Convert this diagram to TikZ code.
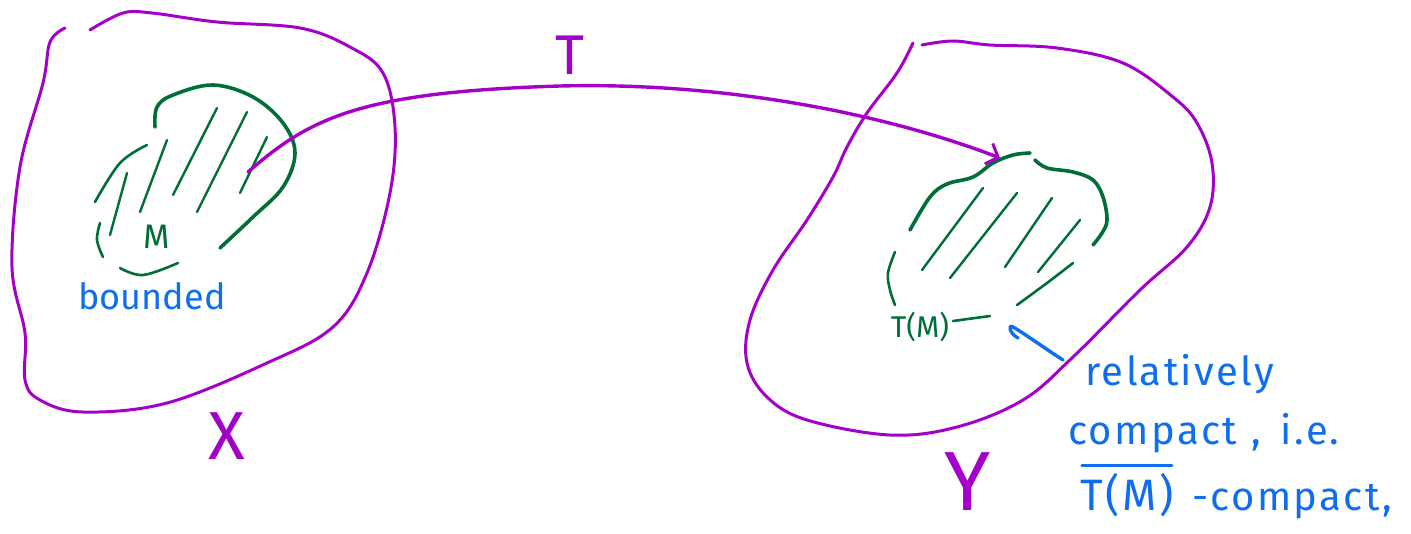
\documentclass[tikz,border=0pt]{standalone}
\usepackage{fontspec}
\setmainfont{Fira Sans}
\newfontfamily\notefont[LetterSpace=6]{Fira Sans}
\usetikzlibrary{arrows.meta}
\definecolor{pen}{RGB}{163,0,200}
\definecolor{leaf}{RGB}{0,110,55}
\definecolor{ink}{RGB}{15,110,240}
\tikzset{
  region/.style={draw=pen, line width=3pt, line cap=round, line join=round},
  blobline/.style={draw=leaf, line width=3.6pt, line cap=round, line join=round},
  blobthin/.style={draw=leaf, line width=2.6pt, line cap=round},
  hatch/.style={draw=leaf, line width=2.4pt, line cap=round},
  maparrow/.style={draw=pen, line width=3.4pt, line cap=round, -{Straight Barb[length=10pt,width=22pt,line width=3pt]}},
  note/.style={text=ink, inner sep=0pt, font=\notefont\fontsize{40}{44}\selectfont},
  inkline/.style={draw=ink, line width=3.4pt, line cap=round},
  glabel/.style={text=leaf, inner sep=0pt},
  plabel/.style={text=pen, inner sep=0pt}
}
\begin{document}
\begin{tikzpicture}[x=1pt,y=-1pt]
\useasboundingbox (0,0) rectangle (1411,533);
% space X
\draw[region] plot[smooth, tension=0.6] coordinates {(90,30) (123,13) (152,13) (217,22) (300,28) (350,47) (383,73) (395,127) (390,193) (367,273) (333,327) (267,363) (167,403) (83,412) (40,400) (25,380) (25,333) (12,267) (20,167) (43,83) (50,42) (65,28)};
% space Y
\draw[region] plot[smooth, tension=0.6] coordinates {(922,45) (953,41) (990,45) (1057,48) (1123,63) (1173,97) (1197,123) (1212,163) (1210,207) (1187,247) (1140,290) (1073,357) (1023,400) (957,427) (890,435) (807,420) (767,397) (747,363) (750,320) (773,270) (807,220) (833,177) (847,147) (867,113) (897,73) (913,43)};
% set M
\draw[blobline] plot[smooth, tension=0.6] coordinates {(155,127) (157,107) (173,95) (213,85) (253,97) (283,123) (295,153) (283,187) (253,217) (220,248)};
\draw[blobthin] plot[smooth, tension=0.6] coordinates {(147,145) (120,163) (95,202)};
\draw[blobthin] plot[smooth, tension=0.6] coordinates {(100,223) (97,240) (103,257)};
\draw[blobthin] plot[smooth, tension=0.6] coordinates {(120,268) (143,275) (178,263)};
\draw[hatch] (127,173) -- (110,235);
\draw[hatch] (167,140) -- (140,212);
\draw[hatch] (217,108) -- (173,195);
\draw[hatch] (247,112) -- (197,212);
\draw[hatch] (267,137) -- (240,193);
% set T(M)
\draw[blobline] plot[smooth, tension=0.6] coordinates {(910,230) (930,197) (947,184) (973,177) (993,163) (1013,155) (1030,153)};
\draw[blobline] plot[smooth, tension=0.6] coordinates {(1035,160) (1047,168) (1073,172) (1093,180) (1103,197) (1107,220) (1102,233) (1093,245)};
\draw[blobthin] plot[smooth, tension=0.6] coordinates {(1073,263) (1047,283) (1017,305)};
\draw[blobthin] plot[smooth, tension=0.6] coordinates {(895,252) (888,273) (890,290) (895,305)};
\draw[blobthin] (953,321) -- (990,316);
\draw[hatch] (983,188) -- (922,270);
\draw[hatch] (1017,193) -- (950,278);
\draw[hatch] (1052,198) -- (1005,267);
\draw[hatch] (1080,220) -- (1038,272);
% labels
\node[plabel, font=\fontsize{56}{60}\selectfont] (Tlab) at (570,55) {T};
\node[plabel, font=\fontsize{68}{72}\selectfont] (Xlab) at (227,436) {X};
\node[plabel, font=\fontsize{84}{88}\selectfont] (Ylab) at (968,482) {Y};
\node[glabel, font=\fontsize{34}{38}\selectfont] (Mlab) at (157,237) {M};
\node[glabel, font=\fontsize{30}{34}\selectfont] (TMlab) at (920,327) {T(M)};
\node[text=ink, inner sep=0pt, font=\fontsize{36}{40}\selectfont] (bnd) at (152,296) {bounded};
\node[note, anchor=west] (rel) at (1085,374) {relatively};
\node[note, anchor=west] (cpt) at (1068,433) {compact\hspace{14pt},\hspace{20pt}i.e.};
\node[note, anchor=base west, font=\notefont\fontsize{44}{48}\selectfont] (TMbar) at (1080,510) {T(M)};
\node[note, anchor=base west] (cls) at (1192,510) {-compact,};
\draw[inkline] ([xshift=2pt,yshift=7pt]TMbar.north west) -- ([xshift=-2pt,yshift=7pt]TMbar.north east);
% map T
\coordinate (Mstart) at (248,172);
\coordinate (TMtip) at (1000,158);
\draw[maparrow] (Mstart) .. controls (310,118) and (360,92) .. (560,86) .. controls (720,82) and (880,112) .. (TMtip);
% pointer from note
\coordinate (hookA) at (1063,360);
\coordinate (hookB) at (1013,327);
\draw[inkline] (hookA) .. controls (1040,345) and (1022,332) .. (hookB) .. controls (1008,324) and (1009,333) .. (1018,338);
\end{tikzpicture}
\end{document}
